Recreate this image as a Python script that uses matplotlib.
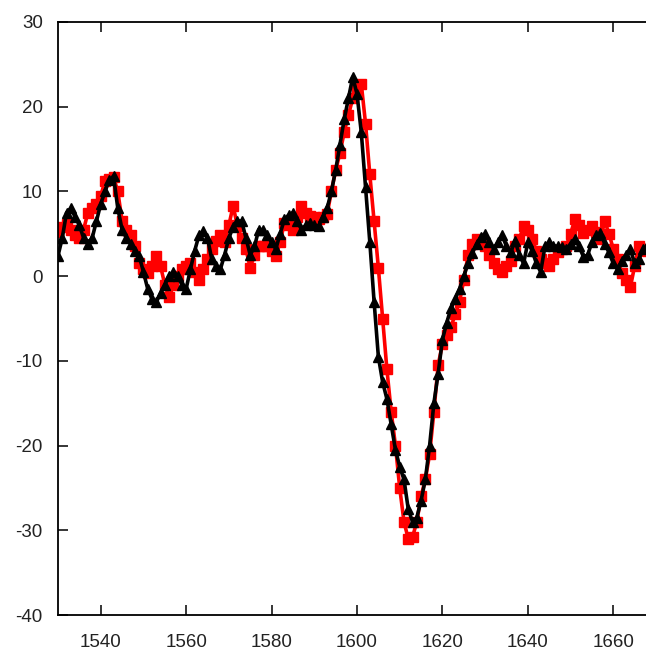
import numpy as np
import matplotlib
matplotlib.use('Agg')
import matplotlib.pyplot as plt

plt.rcParams['font.family'] = ['Liberation Sans', 'DejaVu Sans']
plt.rcParams['axes.unicode_minus'] = False

x = np.arange(1530, 1669)

black = [2.4, 4.5, 7.5, 8, 7, 6, 4.5, 3.8, 4.5, 6.5,
         8.5, 10, 11.3, 11.8, 8, 5.5, 4.5, 3.8, 3, 2.4,
         0.5, -1.5, -2.7, -3.1, -2, -1, 0, 0.5, 0, -1,
         -1.5, 0.8, 3, 4.8, 5.3, 4.5, 2, 1.2, 0.8, 2.5,
         4.5, 5.8, 6.5, 6.5, 4.5, 2.5, 3.5, 5.5, 5.5, 4.8,
         4, 3.2, 5, 6.7, 7.2, 7.5, 6.5, 5.5, 6, 6.3,
         6, 5.9, 7, 8, 10, 12.5, 15.5, 18.5, 21, 23.5,
         21.5, 17, 10.5, 4, -3, -9.5, -12.5, -14.5, -17.5, -20.5,
         -22.5, -24, -27.5, -29, -28.5, -26.5, -24, -20, -15, -11.5,
         -7.5, -5.5, -3.8, -2.7, -1.5, 0, 1.5, 2.7, 3.8, 4.6,
         5, 4, 3.2, 4, 4.8, 3.5, 2.8, 4.2, 2.5, 1.5,
         4, 3, 1.5, 0.5, 3.5, 4, 3.6, 3.5, 3.4, 3.2,
         3.8, 4.4, 3.5, 2.3, 2.5, 4, 4.8, 5.1, 3.8, 2.8,
         1.5, 0.8, 1.8, 2.5, 3.2, 1.5, 2, 3.2, 3.5]

red = [5.2, 5.8, 6.1, 5.5, 4.8, 4.5, 5.5, 7.5, 8, 8.5,
       9.5, 11.2, 11.5, 11.7, 10, 6.5, 5.5, 4.8, 3.5, 1.5,
       0.8, 0.4, 1.2, 2.4, 1.2, -1, -2.5, -1.1, 0, 0.8,
       1.2, 1.6, 0.5, -0.5, 0.8, 2, 3.2, 4.2, 4.8, 4,
       6, 8.3, 5.9, 4.5, 3.2, 1, 2.5, 3.6, 3.6, 3.6,
       3, 2.4, 4, 6.3, 6, 5.5, 7, 8.3, 7.5, 7.1,
       7, 6.7, 7, 7.3, 10, 12.5, 14.5, 17, 19, 21,
       22, 22.7, 18, 12, 6.5, 1, -5, -11, -16, -20,
       -25, -29, -31, -30.8, -29, -26, -24, -21, -16, -10.5,
       -8, -7, -6, -4.5, -3, -0.5, 2.5, 3.8, 4.4, 4,
       3.5, 2.5, 1.5, 0.8, 0.5, 1.2, 1.8, 3.5, 4.4, 5.9,
       5.5, 4.4, 3, 2, 1.5, 1.2, 2, 2.8, 3.2, 3.6,
       5, 6.7, 6, 5.1, 5.5, 5.9, 5.2, 4.4, 6.5, 5,
       3.2, 2, 0.4, -0.5, -1.3, 1.2, 3.6, 3.2, 3]

x_ticks = [1540, 1560, 1580, 1600, 1620, 1640, 1660]
y_ticks = [-40, -30, -20, -10, 0, 10, 20, 30]

fig = plt.figure(figsize=(6.46, 6.52), dpi=100)
ax = fig.add_axes([58 / 646, 37 / 652, 598 / 646, 593 / 652])

ax.plot(x, red, color='#ff0000', lw=2.6, marker='s', ms=7.5,
        mec='#ff0000', mfc='#ff0000')
ax.plot(x, black, color='black', lw=2.6, marker='^', ms=7.5,
        mec='black', mfc='black')

ax.set_xlim(1530, 1670)
ax.set_ylim(-40, 30)
ax.set_xticks(x_ticks)
ax.set_yticks(y_ticks)

for s in ax.spines.values():
    s.set_linewidth(1.3)
ax.tick_params(direction='in', length=7, width=1.1, top=True, right=True,
               labelsize=13.5, labelcolor='#222222')
ax.tick_params(axis='x', pad=14)
ax.tick_params(axis='y', pad=11)

plt.savefig('out.png', dpi=100)
